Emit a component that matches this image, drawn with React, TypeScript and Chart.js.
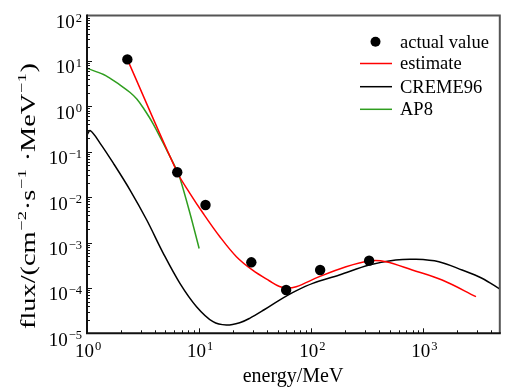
import React, { useEffect, useRef } from 'react';
import { Chart, registerables } from 'chart.js';

Chart.register(...registerables);

// ---- data ----
const actualEnergy = [2.29, 6.38, 11.4, 29.2, 59.7, 120, 328];
const actualFlux = [10.8, 0.0352, 6.7e-3, 3.66e-4, 9.0e-5, 2.48e-4, 3.98e-4];

const estimateEnergy = [2.29, 6.38, 8.27, 10.85, 15.3, 21.5, 30.2, 42.5, 52.1, 60.1, 73.3, 118, 204, 328, 462, 795, 1469, 2943];
const estimateFlux = [10.8, 0.0352, 0.01213, 4.4e-3, 1.34e-3, 4.87e-4, 2.42e-4, 1.42e-4, 1.07e-4, 9.95e-5, 1.06e-4, 1.77e-4, 2.93e-4, 3.92e-4, 3.78e-4, 2.48e-4, 1.49e-4, 6.4e-5];

const cremeEnergy = [1.0, 1.07, 1.31, 1.72, 2.42, 3.41, 4.79, 6.74, 9.48, 13.3, 17.5, 23, 28.2, 38, 52.1, 73, 103, 178, 328, 566, 853, 1373, 2212, 3327, 4850];
const cremeFlux = [0.233, 0.29, 0.153, 0.0555, 0.0143, 3.13e-3, 5.78e-4, 1.26e-4, 3.86e-5, 1.8e-5, 1.52e-5, 1.71e-5, 2.14e-5, 3.3e-5, 5.4e-5, 8.6e-5, 1.26e-4, 1.92e-4, 3.19e-4, 4.12e-4, 4.27e-4, 3.78e-4, 2.48e-4, 1.63e-4, 9.3e-5];

const ap8Energy = [1.0, 1.404, 1.61, 1.976, 2.424, 2.78, 3.18, 3.9, 5.13, 6.3, 6.74, 8.27, 10.0];
const ap8Flux = [6.87, 5.01, 4.1, 2.94, 2.01, 1.45, 0.918, 0.407, 0.109, 0.0395, 0.0264, 4.47e-3, 7.4e-4];

const xTickExponents = [0, 1, 2, 3];
const yTickExponents = [-5, -4, -3, -2, -1, 0, 1, 2];
const seriesLabels = ['actual value', 'estimate', 'CREME96', 'AP8'];
const xTitle = 'energy/MeV';
// y title pieces: [text, isSuperscript]
const yTitleParts: [string, boolean][] = [
  ['flux/(cm', false],
  ['\u22122', true],
  ['\u00B7s', false],
  ['\u22121', true],
  [' \u00B7MeV', false],
  ['\u22121', true],
  [')', false],
];

const X_MIN = 1;
const X_MAX = 4800;
const Y_MIN = 1e-5;
const Y_MAX = 100;

const FONT = '"Liberation Serif", "Times New Roman", Times, serif';
const RED = '#ff0000';
const GREEN = '#2f9e1f';
const BLACK = '#000000';

const zip = (xs: number[], ys: number[]) => xs.map((x, i) => ({ x, y: ys[i] }));
const expText = (n: number) => (n < 0 ? '\u2212' + Math.abs(n) : String(n));

function drawPower(ctx: CanvasRenderingContext2D, exp: number, x: number, baseline: number, align: 'right' | 'center') {
  const size = 19;
  const supSize = 12.5;
  ctx.font = `${size}px ${FONT}`;
  const wb = ctx.measureText('10').width;
  ctx.font = `${supSize}px ${FONT}`;
  const e = expText(exp);
  const we = ctx.measureText(e).width;
  const total = wb + we + 1;
  const x0 = align === 'right' ? x - total : x - total / 2;
  ctx.textAlign = 'left';
  ctx.textBaseline = 'alphabetic';
  ctx.fillStyle = '#000';
  ctx.font = `${size}px ${FONT}`;
  ctx.fillText('10', x0, baseline);
  ctx.font = `${supSize}px ${FONT}`;
  ctx.fillText(e, x0 + wb + 1, baseline - 6.5);
}

const decorPlugin = {
  id: 'decor',
  afterDraw(chart: any) {
    const ctx: CanvasRenderingContext2D = chart.ctx;
    const { left, right, top, bottom } = chart.chartArea;
    const xs = chart.scales.x;
    const ys = chart.scales.y;
    ctx.save();

    // frame
    ctx.lineCap = 'butt';
    ctx.strokeStyle = '#555';
    ctx.lineWidth = 2;
    ctx.beginPath();
    ctx.moveTo(left, top);
    ctx.lineTo(right, top);
    ctx.lineTo(right, bottom);
    ctx.stroke();
    ctx.strokeStyle = '#111';
    ctx.lineWidth = 2;
    ctx.beginPath();
    ctx.moveTo(left, top - 1);
    ctx.lineTo(left, bottom);
    ctx.lineTo(right + 1, bottom);
    ctx.stroke();

    // ticks (inward)
    ctx.lineWidth = 1;
    ctx.strokeStyle = '#111';
    ctx.beginPath();
    for (let d = -5; d < 2; d++) {
      for (let k = 1; k <= 9; k++) {
        const v = k * Math.pow(10, d);
        const py = Math.round(ys.getPixelForValue(v)) + 0.5;
        const len = k === 1 ? 5 : 3;
        ctx.moveTo(left, py);
        ctx.lineTo(left + len, py);
      }
    }
    for (let d = 0; d <= 3; d++) {
      for (let k = 1; k <= 9; k++) {
        const v = k * Math.pow(10, d);
        if (v > X_MAX) continue;
        const px = Math.round(xs.getPixelForValue(v)) + 0.5;
        const len = k === 1 ? 5 : 3;
        ctx.moveTo(px, bottom);
        ctx.lineTo(px, bottom - len);
      }
    }
    ctx.stroke();

    // tick labels
    yTickExponents.forEach((e) => {
      const py = ys.getPixelForValue(Math.pow(10, e));
      drawPower(ctx, e, 82, py + 12.5, 'right');
    });
    xTickExponents.forEach((e) => {
      const px = xs.getPixelForValue(Math.pow(10, e));
      drawPower(ctx, e, px + 1, bottom + 23.5, 'center');
    });

    // x title
    ctx.fillStyle = '#000';
    ctx.font = `20px ${FONT}`;
    ctx.textAlign = 'center';
    ctx.textBaseline = 'alphabetic';
    ctx.fillText(xTitle, 293, 382);

    // y title (rotated), stretched along its length to the reference length
    ctx.save();
    ctx.translate(34.5, 196);
    ctx.rotate(-Math.PI / 2);
    const bSize = 20.5;
    const sSize = 13.5;
    const targetLen = 266;
    const widths = yTitleParts.map(([t, sup]) => {
      ctx.font = `${sup ? sSize : bSize}px ${FONT}`;
      return ctx.measureText(t).width + (sup ? 1 : 0);
    });
    const natural = widths.reduce((a, b) => a + b, 0);
    ctx.scale(targetLen / natural, 1);
    let cx = -natural / 2;
    ctx.textAlign = 'left';
    yTitleParts.forEach(([t, sup], i) => {
      ctx.font = `${sup ? sSize : bSize}px ${FONT}`;
      ctx.fillText(t, cx + (sup ? 0.5 : 0), sup ? -8.5 : 0);
      cx += widths[i];
    });
    ctx.restore();

    // legend
    const lx = 360;
    const tx = 400;
    const rows = [41.7, 63.5, 86.7, 109.3];
    ctx.font = `18.5px ${FONT}`;
    ctx.textAlign = 'left';
    ctx.textBaseline = 'middle';
    ctx.fillStyle = BLACK;
    ctx.beginPath();
    ctx.arc(375.5, rows[0], 5, 0, Math.PI * 2);
    ctx.fill();
    const colors = [BLACK, RED, BLACK, GREEN];
    for (let i = 1; i < 4; i++) {
      ctx.strokeStyle = colors[i];
      ctx.lineWidth = 1.5;
      ctx.beginPath();
      ctx.moveTo(lx, rows[i]);
      ctx.lineTo(lx + 32, rows[i]);
      ctx.stroke();
    }
    ctx.fillStyle = '#000';
    seriesLabels.forEach((s, i) => ctx.fillText(s, tx, rows[i] + 1));

    ctx.restore();
  },
};

export default function App() {
  const ref = useRef<HTMLCanvasElement | null>(null);
  useEffect(() => {
    if (!ref.current) return;
    const chart = new Chart(ref.current, {
      type: 'line',
      data: {
        datasets: [
          {
            label: seriesLabels[0],
            data: zip(actualEnergy, actualFlux),
            showLine: false,
            pointRadius: 5.2,
            pointBackgroundColor: BLACK,
            pointBorderColor: BLACK,
            pointBorderWidth: 0,
          },
          {
            label: seriesLabels[1],
            data: zip(estimateEnergy, estimateFlux),
            borderColor: RED,
            borderWidth: 1.5,
            pointRadius: 0,
            tension: 0.35,
          },
          {
            label: seriesLabels[2],
            data: zip(cremeEnergy, cremeFlux),
            borderColor: BLACK,
            borderWidth: 1.5,
            pointRadius: 0,
            tension: 0.35,
          },
          {
            label: seriesLabels[3],
            data: zip(ap8Energy, ap8Flux),
            borderColor: GREEN,
            borderWidth: 1.5,
            pointRadius: 0,
            tension: 0.35,
          },
        ],
      } as any,
      options: {
        animation: false,
        responsive: false,
        events: [],
        layout: { padding: { left: 87, right: 3.5, top: 15.5, bottom: 56.7 } },
        plugins: { legend: { display: false }, tooltip: { enabled: false } },
        scales: {
          x: { type: 'logarithmic', min: X_MIN, max: X_MAX, display: false },
          y: { type: 'logarithmic', min: Y_MIN, max: Y_MAX, display: false },
        },
      } as any,
      plugins: [decorPlugin],
    });
    return () => chart.destroy();
  }, []);
  return (
    <div style={{ position: 'absolute', left: 0, top: 0, width: 505, height: 390, background: '#fff' }}>
      <canvas ref={ref} width={505} height={390} style={{ width: 505, height: 390, display: 'block' }} />
    </div>
  );
}
